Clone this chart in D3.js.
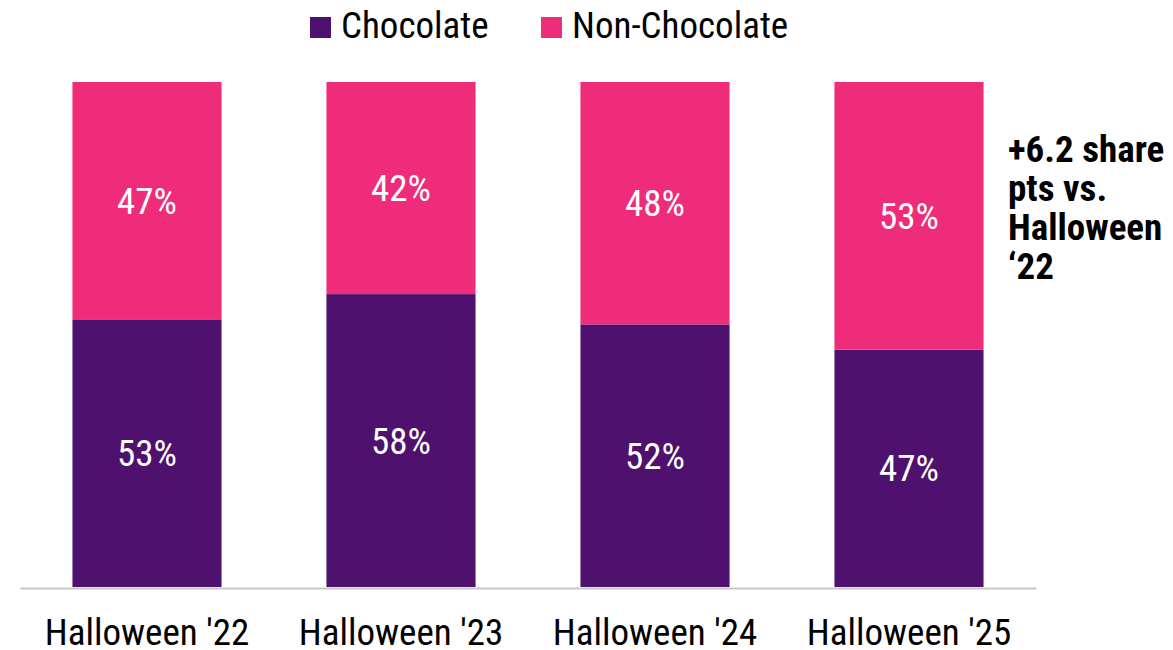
<!DOCTYPE html>
<html>
<head>
<meta charset="utf-8">
<script src="https://cdn.jsdelivr.net/npm/d3@7"></script>
<style>
  html, body { margin: 0; padding: 0; background: #ffffff; }
  svg text { font-family: "Roboto Condensed", Roboto, sans-serif; font-stretch: condensed; }
</style>
</head>
<body>
<svg id="chart" width="1173" height="650"></svg>
<script>
// Share of Halloween candy sales, chocolate vs non-chocolate
const categories = ["Halloween '22", "Halloween '23", "Halloween '24", "Halloween '25"];
const chocolate = [53, 58, 52, 47];
const nonChocolate = [47, 42, 48, 53];
const seriesNames = ["Chocolate", "Non-Chocolate"];
const seriesColors = ["#4e116d", "#ef2c79"];
const noteLines = ["+6.2 share", "pts vs.", "Halloween", "\u201822"];

const svg = d3.select("#chart");
const baseY = 587, topY = 82;

const x = d3.scaleBand()
  .domain(categories)
  .range([20, 1036])
  .paddingInner(0.413)
  .paddingOuter(0.2065);

const y = d3.scaleLinear().domain([0, 100]).range([baseY, topY]);

const rows = categories.map((c, i) => ({ cat: c, Chocolate: chocolate[i], "Non-Chocolate": nonChocolate[i] }));
const stacked = d3.stack().keys(seriesNames)(rows);

function addText(g, tx, ty, str, opts) {
  return g.append("text")
    .attr("x", tx)
    .attr("y", ty)
    .attr("text-anchor", opts.anchor || "middle")
    .attr("font-size", opts.size)
    .attr("font-weight", opts.weight || 400)
    .attr("fill", opts.fill || "#000")
    .text(str);
}

// bars
const layers = svg.append("g").selectAll("g")
  .data(stacked).join("g")
  .attr("fill", (d, i) => seriesColors[i]);

layers.selectAll("rect")
  .data(d => d)
  .join("rect")
  .attr("x", d => x(d.data.cat))
  .attr("width", x.bandwidth())
  .attr("y", d => y(d[1]))
  .attr("height", d => y(d[0]) - y(d[1]));

// value labels, centred in each segment
const labels = svg.append("g");
stacked.forEach(layer => {
  layer.forEach(d => {
    const cy = (y(d[0]) + y(d[1])) / 2;
    addText(labels, x(d.data.cat) + x.bandwidth() / 2, cy + 13, (d[1] - d[0]) + "%", { size: 37, fill: "#ffffff" });
  });
});

// baseline axis
const axis = svg.append("g").attr("transform", `translate(0,${baseY + 1})`)
  .call(d3.axisBottom(x).tickSize(0).tickPadding(0));
axis.select(".domain").attr("stroke", "#c8c8c8").attr("stroke-width", 2);
axis.selectAll(".tick text").remove();
axis.selectAll(".tick").each(function(d) {
  addText(d3.select(this), 0, 645 - baseY - 1, d, { size: 37 });
});

// legend
const legend = svg.append("g");
const legendItems = [{ x: 310, tx: 341 }, { x: 541, tx: 572 }];
seriesNames.forEach((name, i) => {
  legend.append("rect").attr("x", legendItems[i].x).attr("y", 17).attr("width", 21).attr("height", 21).attr("fill", seriesColors[i]);
  addText(legend, legendItems[i].tx, 38, name, { size: 37, anchor: "start" });
});

// side note
const note = svg.append("g");
noteLines.forEach((line, i) => {
  addText(note, 1008, 162 + i * 39, line, { size: 37, weight: 700, anchor: "start" });
});
</script>
</body>
</html>
